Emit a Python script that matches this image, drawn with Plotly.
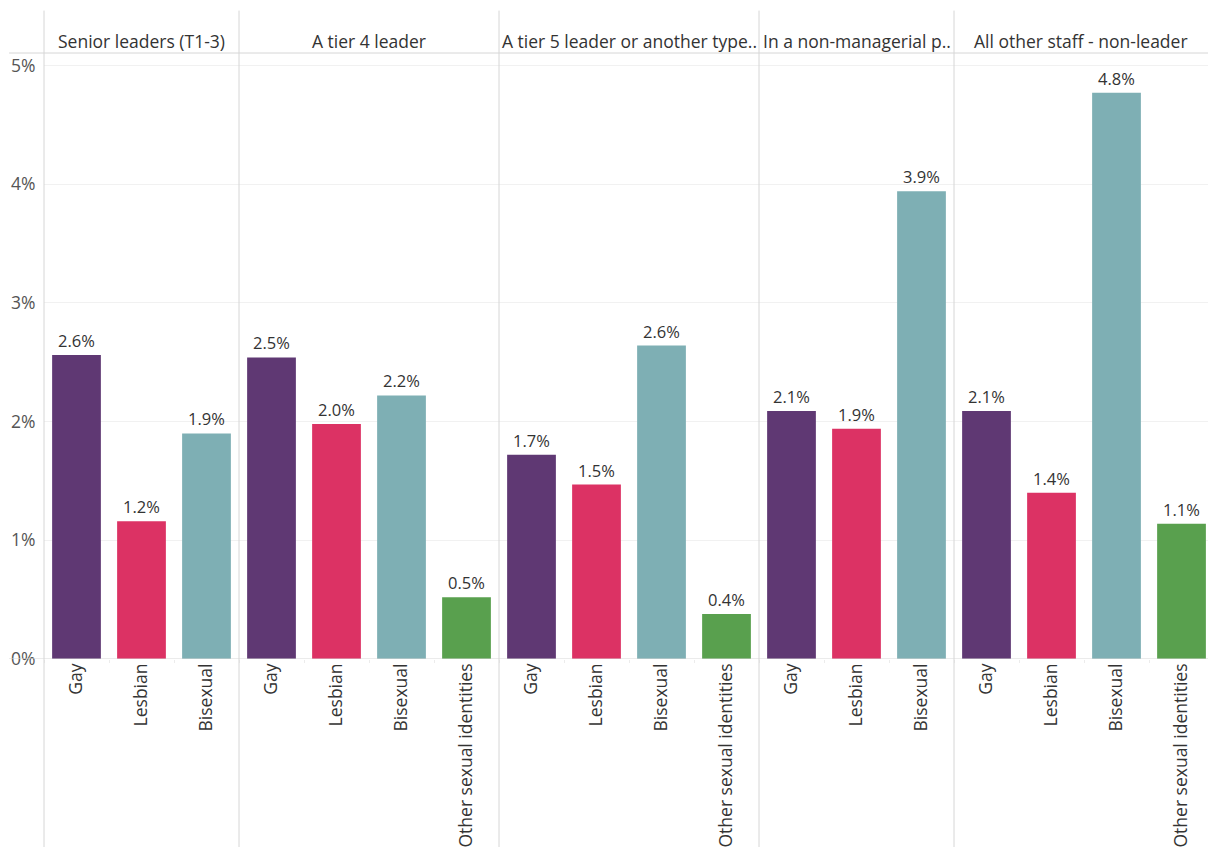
import plotly.graph_objects as go
from plotly.subplots import make_subplots

# Panel headers (leadership level) and the sexual identity categories in each panel
groups = [
    "Senior leaders (T1-3)",
    "A tier 4 leader",
    "A tier 5 leader or another type..",
    "In a non-managerial p..",
    "All other staff - non-leader",
]
categories = [
    ["Gay", "Lesbian", "Bisexual"],
    ["Gay", "Lesbian", "Bisexual", "Other sexual identities"],
    ["Gay", "Lesbian", "Bisexual", "Other sexual identities"],
    ["Gay", "Lesbian", "Bisexual"],
    ["Gay", "Lesbian", "Bisexual", "Other sexual identities"],
]
# Share of staff (%) per category
values = [
    [2.56, 1.16, 1.90],
    [2.54, 1.98, 2.22, 0.52],
    [1.72, 1.47, 2.64, 0.38],
    [2.09, 1.94, 3.94],
    [2.09, 1.40, 4.77, 1.14],
]
y_ticks = [0, 1, 2, 3, 4, 5]

colors = {
    "Gay": "#5f3873",
    "Lesbian": "#dc3264",
    "Bisexual": "#7eafb4",
    "Other sexual identities": "#59a04e",
}

FONT = "Open Sans"
TEXT = "#333333"
RULE = "#d6d6d6"

# Pixel widths of each panel column (last one runs off the right edge)
panel_widths = [195, 260, 260, 195, 254]
slot = 65

fig = make_subplots(
    rows=1, cols=5, shared_yaxes=True, horizontal_spacing=0,
    column_widths=panel_widths,
)

for i, (cats, vals) in enumerate(zip(categories, values), start=1):
    fig.add_trace(
        go.Bar(
            x=cats, y=vals,
            marker=dict(color=[colors[c] for c in cats], line=dict(width=0)),
            width=0.75,
            texttemplate="%{y:.1f}%",
            textposition="outside",
            constraintext="none",
            cliponaxis=False,
            textfont=dict(family=FONT, size=16.5, color=TEXT),
            showlegend=False,
            hovertemplate="%{x}: %{y:.1f}%<extra></extra>",
        ),
        row=1, col=i,
    )
    n_visible = panel_widths[i - 1] / slot
    fig.update_xaxes(
        range=[-0.5, n_visible - 0.5],
        tickangle=-90,
        tickfont=dict(family=FONT, size=17.5, color=TEXT),
        showgrid=False, showline=False, zeroline=False,
        ticks="outside", tickson="boundaries", ticklen=3, tickcolor="#ececec",
        fixedrange=True,
        row=1, col=i,
    )

fig.update_yaxes(
    range=[0, 5.105],
    tickvals=y_ticks,
    ticktext=[f"{t}%" for t in y_ticks],
    tickfont=dict(family=FONT, size=17.5, color="#555555"),
    showgrid=True, gridcolor="#f1f1f1", gridwidth=1,
    showline=False, zeroline=False,
    ticks="outside", ticklen=4, tickcolor="rgba(0,0,0,0)",
    fixedrange=True,
)

shapes = []
annotations = []
for i, g in enumerate(groups, start=1):
    xref = "x domain" if i == 1 else f"x{i} domain"
    # column divider running through header, plot and label area
    shapes.append(dict(
        type="line", xref=xref, yref="paper", x0=0, x1=0, y0=-0.32, y1=1.07,
        line=dict(color=RULE, width=1),
    ))
    annotations.append(dict(
        text=g, xref=xref, yref="paper", x=0.5, y=1.019,
        xanchor="center", yanchor="middle", showarrow=False,
        font=dict(family=FONT, size=17.5, color=TEXT),
    ))

# header underline and baseline
shapes.append(dict(type="line", xref="paper", yref="paper", x0=-0.03, x1=1, y0=1, y1=1,
                   line=dict(color=RULE, width=1)))
shapes.append(dict(type="line", xref="paper", yref="y", x0=-0.03, x1=1, y0=0, y1=0,
                   line=dict(color=RULE, width=1)))

fig.update_layout(
    width=1208, height=847,
    margin=dict(l=44, r=0, t=53, b=188),
    paper_bgcolor="white", plot_bgcolor="white",
    font=dict(family=FONT, color=TEXT),
    bargap=0.25,
    shapes=shapes,
    annotations=annotations,
)

fig.write_html("out.html")
